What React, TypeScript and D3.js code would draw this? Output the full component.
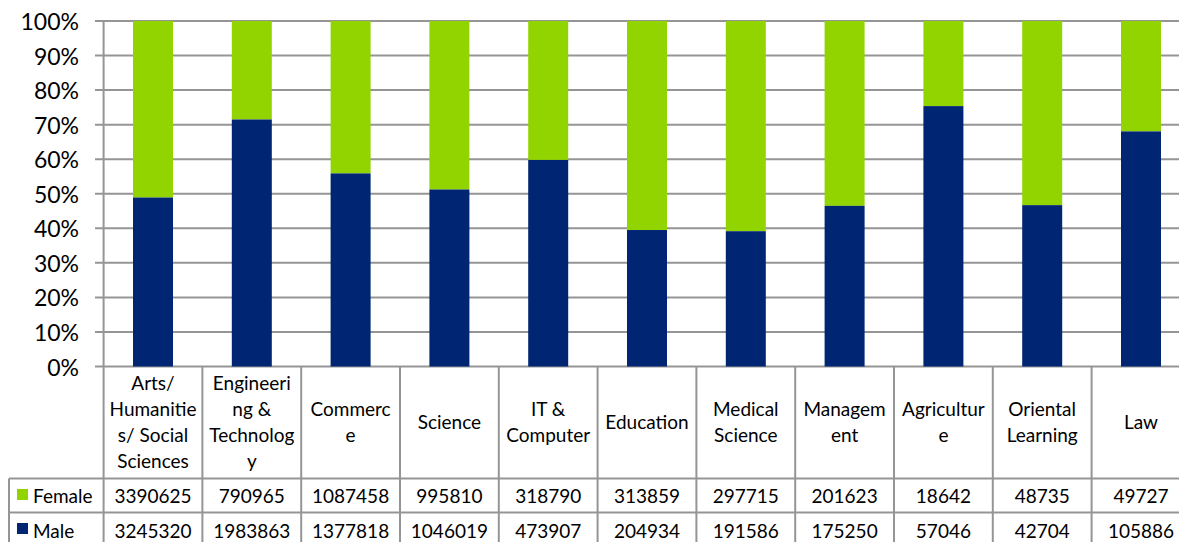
import React from "react";
import * as d3 from "d3";

const categories = [
  "Arts/ Humanities/ Social Sciences",
  "Engineering & Technology",
  "Commerce",
  "Science",
  "IT & Computer",
  "Education",
  "Medical Science",
  "Management",
  "Agriculture",
  "Oriental Learning",
  "Law",
];
const categoryLines = [
  ["Arts/", "Humanitie", "s/ Social", "Sciences"],
  ["Engineeri", "ng &", "Technolog", "y"],
  ["Commerc", "e"],
  ["Science"],
  ["IT &", "Computer"],
  ["Education"],
  ["Medical", "Science"],
  ["Managem", "ent"],
  ["Agricultur", "e"],
  ["Oriental", "Learning"],
  ["Law"],
];
const female = [3390625, 790965, 1087458, 995810, 318790, 313859, 297715, 201623, 18642, 48735, 49727];
const male = [3245320, 1983863, 1377818, 1046019, 473907, 204934, 191586, 175250, 57046, 42704, 105886];
const yTicks = [0, 0.1, 0.2, 0.3, 0.4, 0.5, 0.6, 0.7, 0.8, 0.9, 1];

const W = 1179;
const H = 542;
const GREEN = "#92d400";
const NAVY = "#002673";
const GRID = "#959595";
const FONT = "Lato, 'Open Sans', sans-serif";

export default function App() {
  const x = d3.scaleBand<string>().domain(categories).range([103.6, 103.6 + 11 * 98.8]).paddingInner(0).paddingOuter(0);
  const y = d3.scaleLinear().domain([0, 1]).range([366.5, 21]);
  const bw = 40;
  const rowCatTop = 366.5;
  const rowFemTop = 478.5;
  const rowMaleTop = 512.5;
  const rowBottom = 547;
  const right = 103.6 + 11 * 98.8;
  const lineH = 25.8;
  const fs = 19;

  return (
    <svg width={W} height={H} style={{ position: "absolute", left: 0, top: 0, background: "#fff" }} fontFamily={FONT}>
      {/* gridlines */}
      {yTicks.map((t) => (
        <line key={"g" + t} x1={95} x2={right} y1={y(t)} y2={y(t)} stroke={GRID} strokeWidth={2} />
      ))}
      {/* y axis line */}
      <line x1={103.6} x2={103.6} y1={y(1)} y2={rowBottom} stroke={GRID} strokeWidth={2} />
      {yTicks.map((t) => (
        <text key={"t" + t} x={79} y={y(t)} textAnchor="end" dominantBaseline="central" fontSize={23} fill="#000">
          {d3.format(".0%")(t)}
        </text>
      ))}
      {/* bars */}
      {categories.map((c, i) => {
        const tot = male[i] + female[i];
        const m = male[i] / tot;
        const cx = (x(c) as number) + x.bandwidth() / 2;
        return (
          <g key={c}>
            <rect x={cx - bw / 2} width={bw} y={y(1)} height={y(m) - y(1)} fill={GREEN} />
            <rect x={cx - bw / 2} width={bw} y={y(m)} height={y(0) - y(m)} fill={NAVY} />
          </g>
        );
      })}
      {/* table lines */}
      {categories.map((c) => (
        <line key={"v" + c} x1={(x(c) as number) + x.bandwidth()} x2={(x(c) as number) + x.bandwidth()} y1={rowCatTop} y2={rowBottom} stroke={GRID} strokeWidth={2} />
      ))}
      <line x1={9} x2={9} y1={rowFemTop} y2={rowBottom} stroke={GRID} strokeWidth={2} />
      <line x1={9} x2={right} y1={rowFemTop} y2={rowFemTop} stroke={GRID} strokeWidth={2} />
      <line x1={9} x2={right} y1={rowMaleTop} y2={rowMaleTop} stroke={GRID} strokeWidth={2} />
      {/* category labels */}
      {categories.map((c, i) => {
        const cx = (x(c) as number) + x.bandwidth() / 2;
        const lines = categoryLines[i];
        const cy = (rowCatTop + rowFemTop) / 2 - 1;
        return (
          <text key={"c" + c} textAnchor="middle" fontSize={fs} fill="#000">
            {lines.map((l, j) => (
              <tspan key={j} x={cx} y={cy + (j - (lines.length - 1) / 2) * lineH} dominantBaseline="central">
                {l}
              </tspan>
            ))}
          </text>
        );
      })}
      {/* legend keys */}
      <rect x={17} y={489} width={11} height={11} fill={GREEN} />
      <text x={33} y={(rowFemTop + rowMaleTop) / 2} dominantBaseline="central" fontSize={fs}>Female</text>
      <rect x={17} y={523} width={11} height={11} fill={NAVY} />
      <text x={33} y={530} dominantBaseline="central" fontSize={fs}>Male</text>
      {categories.map((c, i) => {
        const cx = (x(c) as number) + x.bandwidth() / 2;
        return (
          <g key={"v" + c}>
            <text x={cx} y={(rowFemTop + rowMaleTop) / 2} textAnchor="middle" dominantBaseline="central" fontSize={fs}>{female[i]}</text>
            <text x={cx} y={530} textAnchor="middle" dominantBaseline="central" fontSize={fs}>{male[i]}</text>
          </g>
        );
      })}
    </svg>
  );
}
